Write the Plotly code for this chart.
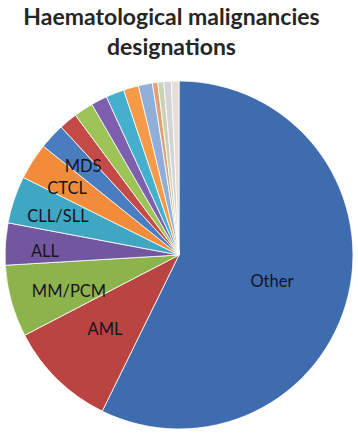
import numpy as np
import plotly.graph_objects as go

# ---- data (% of designations) ----
categories = ["Other", "AML", "MM/PCM", "ALL", "CLL/SLL", "CTCL", "MDS",
              "Designation 8", "Designation 9", "Designation 10", "Designation 11",
              "Designation 12", "Designation 13", "Designation 14", "Designation 15",
              "Designation 16", "Designation 17"]
values = [57.3, 10.1, 6.7, 3.9, 4.4, 3.4, 2.4,
          1.7, 1.8, 1.5, 1.7, 1.4, 1.3, 0.5, 0.55, 0.7, 0.7]
shown_labels = ["Other", "AML", "MM/PCM", "ALL", "CLL/SLL", "CTCL", "MDS"]
title_text = "Haematological malignancies<br>designations"

# ---- style ----
colors = ["#3F6CAF", "#B94441", "#8DB34D", "#7257A0", "#3FA7C2", "#F28C3B", "#4A7DC0",
          "#C44A47", "#9DC457", "#7D5FAD", "#45B0CD", "#F69A48", "#8FAEDA",
          "#E0A07A", "#C9D3B4", "#D3D3D8", "#E6DED6"]
label_radius = [0.558, 0.61, 0.669, 0.77, 0.727, 0.744, 0.745]
label_shift_deg = [3.7, -0.2, -3.7, -2.8, -1.6, -2.5, -0.8]

vals = np.array(values, dtype=float)
share_deg = vals / vals.sum() * 360.0
cum = np.cumsum(share_deg)
mid_deg = cum - share_deg / 2
n_lab = len(shown_labels)
label_theta = mid_deg[:n_lab] + np.array(label_shift_deg)

fig = go.Figure()
# pie slices drawn as full-radius wedges on a polar axis (clockwise from 12 o'clock)
fig.add_trace(go.Barpolar(
    r=[1] * len(values), theta=list(mid_deg), width=list(share_deg),
    marker=dict(color=colors, line=dict(color="white", width=0.8)),
    hovertext=categories, hoverinfo="text", showlegend=False,
))
fig.add_trace(go.Scatterpolar(
    r=label_radius, theta=list(label_theta), text=shown_labels,
    mode="text", textfont=dict(family="Lato", size=16.5, color="#15151f"),
    showlegend=False, hoverinfo="skip",
))
fig.update_layout(
    width=358, height=436,
    margin=dict(l=5, r=5, t=81, b=7),
    paper_bgcolor="white", plot_bgcolor="white",
    title=dict(text=title_text, x=0.479, xanchor="center", y=0.942, yanchor="middle",
               yref="container",
               font=dict(family="Lato", size=23, color="#262626", weight="bold")),
    polar=dict(domain=dict(x=[0, 1], y=[0, 1]), bgcolor="rgba(0,0,0,0)",
               bargap=0, hole=0,
               radialaxis=dict(range=[0, 1], visible=False, showgrid=False),
               angularaxis=dict(direction="clockwise", rotation=90, visible=False,
                                showgrid=False)),
)
fig.write_html("out.html", config={"displayModeBar": False},
               post_script="document.body.style.margin='0px';document.body.style.overflow='hidden';")
